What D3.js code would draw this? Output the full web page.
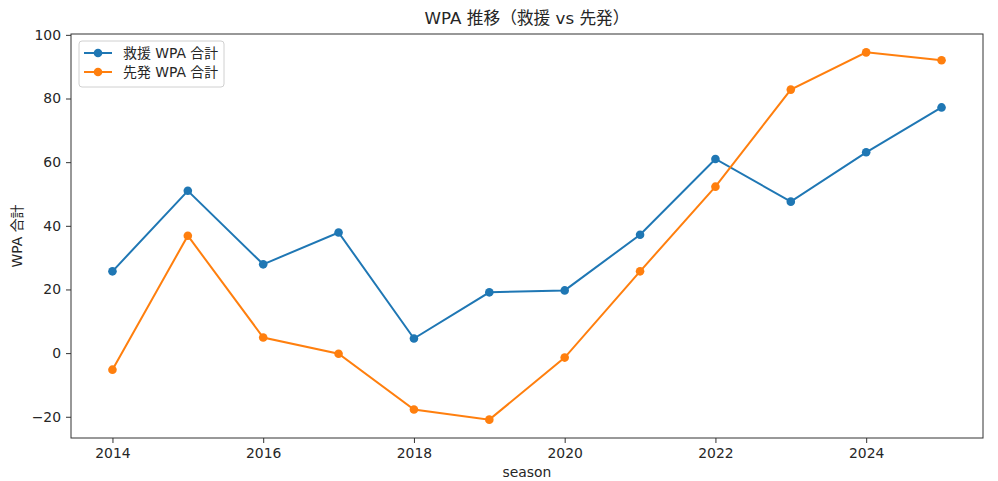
<!DOCTYPE html>
<html>
<head>
<meta charset="utf-8">
<script src="https://cdn.jsdelivr.net/npm/d3@7"></script>
<style>
  body { margin: 0; background: #fff; }
  svg text { font-family: "DejaVu Sans", "Noto Sans CJK JP", sans-serif; fill: #262626; }
</style>
</head>
<body>
<svg id="chart"></svg>
<script>
// data
var seasons = [2014, 2015, 2016, 2017, 2018, 2019, 2020, 2021, 2022, 2023, 2024, 2025];
var reliefWpa = [25.7, 51.0, 27.9, 37.9, 4.6, 19.1, 19.7, 37.2, 61.0, 47.6, 63.1, 77.2];
var starterWpa = [-5.2, 36.9, 4.9, -0.2, -17.7, -20.9, -1.4, 25.7, 52.3, 82.8, 94.5, 92.0];
var xTicks = [2014, 2016, 2018, 2020, 2022, 2024];
var yTicks = [-20, 0, 20, 40, 60, 80, 100];
var seriesNames = ['救援 WPA 合計', '先発 WPA 合計'];
var seriesColors = ['#1f77b4', '#ff7f0e'];

var svgWidth = 998, svgHeight = 481;
var margin = { top: 34, right: 15, bottom: 43, left: 71 };
var plotW = svgWidth - margin.left - margin.right;
var plotH = svgHeight - margin.top - margin.bottom;

var svg = d3.select('#chart')
  .attr('width', svgWidth)
  .attr('height', svgHeight);

// matplotlib style 5% padding on both axes
var allVals = reliefWpa.concat(starterWpa);
var yMin = d3.min(allVals), yMax = d3.max(allVals);
var yPad = (yMax - yMin) * 0.05;
var xPad = (d3.max(seasons) - d3.min(seasons)) * 0.05;

var xScale = d3.scaleLinear()
  .domain([d3.min(seasons) - xPad, d3.max(seasons) + xPad])
  .range([0, plotW]);

var yScale = d3.scaleLinear()
  .domain([yMin - yPad, yMax + yPad])
  .range([plotH, 0]);

var g = svg.append('g')
  .attr('transform', 'translate(' + margin.left + ',' + margin.top + ')');

// axes
var xAxis = g.append('g')
  .attr('transform', 'translate(0,' + plotH + ')')
  .call(d3.axisBottom(xScale).tickValues(xTicks).tickFormat(d3.format('d')).tickSize(5).tickPadding(5));

var yAxis = g.append('g')
  .call(d3.axisLeft(yScale).tickValues(yTicks).tickFormat(function(d) {
    return d < 0 ? '\u2212' + Math.abs(d) : d;
  }).tickSize(5).tickPadding(5));

[xAxis, yAxis].forEach(function(ax) {
  ax.select('.domain').remove();
  ax.selectAll('line').attr('stroke', '#333').attr('stroke-width', 1);
  ax.selectAll('text').style('font-size', '13.9px').attr('fill', '#262626');
});

// frame
g.append('rect')
  .attr('width', plotW)
  .attr('height', plotH)
  .attr('fill', 'none')
  .attr('stroke', '#333')
  .attr('stroke-width', 1);

// lines + markers
var line = d3.line()
  .x(function(d, i) { return xScale(seasons[i]); })
  .y(function(d) { return yScale(d); });

[reliefWpa, starterWpa].forEach(function(series, s) {
  g.append('path')
    .datum(series)
    .attr('fill', 'none')
    .attr('stroke', seriesColors[s])
    .attr('stroke-width', 2)
    .attr('d', line);

  g.selectAll('.dot' + s)
    .data(series)
    .enter()
    .append('circle')
    .attr('class', 'dot' + s)
    .attr('cx', function(d, i) { return xScale(seasons[i]); })
    .attr('cy', function(d) { return yScale(d); })
    .attr('r', 4.3)
    .attr('fill', seriesColors[s]);
});

// legend
var legend = g.append('g').attr('transform', 'translate(8,7)');
legend.append('rect')
  .attr('width', 145)
  .attr('height', 46)
  .attr('rx', 3)
  .attr('fill', '#fff')
  .attr('fill-opacity', 0.8)
  .attr('stroke', '#d0d0d0')
  .attr('stroke-width', 1);

seriesNames.forEach(function(name, i) {
  var yy = 12 + i * 19;
  legend.append('line')
    .attr('x1', 5).attr('x2', 33)
    .attr('y1', yy).attr('y2', yy)
    .attr('stroke', seriesColors[i])
    .attr('stroke-width', 2);
  legend.append('circle')
    .attr('cx', 19).attr('cy', yy)
    .attr('r', 4.3)
    .attr('fill', seriesColors[i]);
  legend.append('text')
    .attr('x', 44).attr('y', yy)
    .attr('dy', '0.36em')
    .style('font-size', '13.9px')
    .text(name);
});

// title and axis labels
svg.append('text')
  .attr('x', margin.left + plotW / 2)
  .attr('y', 24)
  .attr('text-anchor', 'middle')
  .style('font-size', '16.7px')
  .text('WPA 推移（救援 vs 先発）');

svg.append('text')
  .attr('x', margin.left + plotW / 2)
  .attr('y', 477)
  .attr('text-anchor', 'middle')
  .style('font-size', '13.9px')
  .text('season');

svg.append('text')
  .attr('transform', 'translate(22,' + (margin.top + plotH / 2) + ') rotate(-90)')
  .attr('text-anchor', 'middle')
  .style('font-size', '13.9px')
  .text('WPA 合計');
</script>
</body>
</html>
